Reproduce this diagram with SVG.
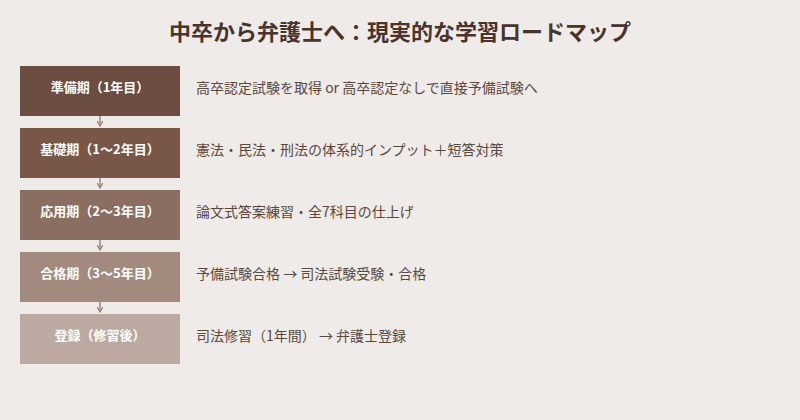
<svg xmlns="http://www.w3.org/2000/svg" width="800" height="420" viewBox="0 0 800 420">
<defs>
<style>
.title{font-family:"Noto Sans CJK JP","Noto Sans CJK SC",sans-serif;font-size:22px;font-weight:bold;fill:#4a332c;text-anchor:middle}
.lbl{font-family:"Noto Sans CJK JP","Noto Sans CJK SC",sans-serif;font-size:13px;font-weight:bold;fill:#ffffff;text-anchor:middle}
.desc{font-family:"Noto Sans CJK JP","Noto Sans CJK SC",sans-serif;font-size:14px;fill:#5a4840}
.conn{stroke:#9c847a;stroke-width:1.5;fill:none}
</style>
<marker id="ah" viewBox="0 0 10 10" refX="8" refY="5" markerWidth="7" markerHeight="7" orient="auto" markerUnits="userSpaceOnUse">
<path d="M1,1 L8,5 L1,9" fill="none" stroke="#9c847a" stroke-width="1.8"/>
</marker>
</defs>
<rect width="800" height="420" fill="#efebe8"/>
<text class="title" x="400" y="40">中卒から弁護士へ：現実的な学習ロードマップ</text>
<g id="connectors">
<line class="conn" x1="100" y1="116" x2="100" y2="126" marker-end="url(#ah)"/>
<line class="conn" x1="100" y1="178" x2="100" y2="188" marker-end="url(#ah)"/>
<line class="conn" x1="100" y1="240" x2="100" y2="250" marker-end="url(#ah)"/>
<line class="conn" x1="100" y1="302" x2="100" y2="312" marker-end="url(#ah)"/>
</g>
<g id="node1">
<rect x="20" y="66" width="160" height="50" fill="#6b4d41"/>
<text class="lbl" x="100" y="92">準備期（1年目）</text>
<text class="desc" x="196" y="93">高卒認定試験を取得 or 高卒認定なしで直接予備試験へ</text>
</g>
<g id="node2">
<rect x="20" y="128" width="160" height="50" fill="#785749"/>
<text class="lbl" x="100" y="154">基礎期（1〜2年目）</text>
<text class="desc" x="196" y="155">憲法・民法・刑法の体系的インプット＋短答対策</text>
</g>
<g id="node3">
<rect x="20" y="190" width="160" height="50" fill="#8b6e62"/>
<text class="lbl" x="100" y="216">応用期（2〜3年目）</text>
<text class="desc" x="196" y="217">論文式答案練習・全7科目の仕上げ</text>
</g>
<g id="node4">
<rect x="20" y="252" width="160" height="50" fill="#a38a7f"/>
<text class="lbl" x="100" y="278">合格期（3〜5年目）</text>
<text class="desc" x="196" y="279">予備試験合格 → 司法試験受験・合格</text>
</g>
<g id="node5">
<rect x="20" y="314" width="160" height="50" fill="#bcaaa2"/>
<text class="lbl" x="100" y="340">登録（修習後）</text>
<text class="desc" x="196" y="341">司法修習（1年間） → 弁護士登録</text>
</g>
</svg>
